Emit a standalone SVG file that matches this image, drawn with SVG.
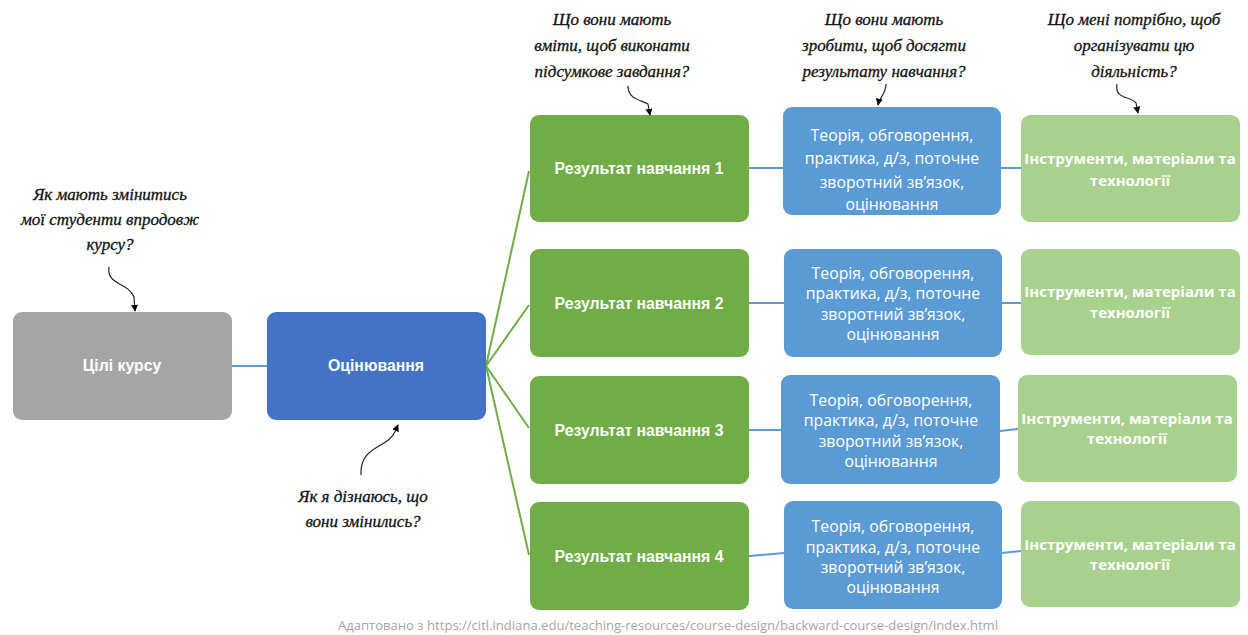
<svg xmlns="http://www.w3.org/2000/svg" width="1248" height="635" viewBox="0 0 1248 635">
  <defs>
    <marker id="tip" viewBox="0 0 10 10" refX="9" refY="5" markerWidth="7" markerHeight="7" markerUnits="userSpaceOnUse" orient="auto">
      <path d="M0,0 L10,5 L0,10 z" fill="#000"/>
    </marker>
    <style>
      .goal { fill: #a5a5a5; }
      .assess { fill: #4472c4; }
      .result { fill: #70ad47; }
      .activity { fill: #5b9bd5; }
      .tools { fill: #a9d18e; }
      .bold { font-family: "Liberation Sans", Arial, sans-serif; font-weight: bold; font-size: 15.8px; fill: #fff; text-anchor: middle; }
      .plain { font-family: "Open Sans", "Noto Sans", sans-serif; font-size: 15.8px; fill: #fff; text-anchor: middle; }
      .tool-txt { font-family: "Open Sans", "Noto Sans", sans-serif; font-weight: bold; font-size: 15px; fill: #fff; text-anchor: middle; }
      .note { font-family: "Liberation Serif", "DejaVu Serif", serif; font-style: italic; font-size: 17px; fill: #111; stroke: #111; stroke-width: 0.3; text-anchor: middle; }
      .curl { fill: none; stroke: #222; stroke-width: 1.2; marker-end: url(#tip); }
      .link-blue { stroke: #5b9bd5; stroke-width: 2; fill: none; }
      .link-green { stroke: #70ad47; stroke-width: 2; fill: none; }
      .credit { font-family: "Open Sans", "Noto Sans", sans-serif; font-size: 13px; fill: #a6a6a6; }
    </style>
  </defs>

  <rect width="1248" height="635" fill="#fff"/>

  <!-- connectors -->
  <g id="connectors">
    <line class="link-blue" x1="232" y1="366" x2="267" y2="366"/>
    <line class="link-green" x1="486" y1="366" x2="529" y2="171"/>
    <line class="link-green" x1="486" y1="366" x2="529" y2="305"/>
    <line class="link-green" x1="486" y1="366" x2="529" y2="428"/>
    <line class="link-green" x1="486" y1="366" x2="529" y2="555"/>
    <line class="link-blue" x1="749" y1="168" x2="783" y2="168"/>
    <line class="link-blue" x1="1001" y1="168" x2="1021" y2="168"/>
    <line class="link-blue" x1="749" y1="303" x2="784" y2="303"/>
    <line class="link-blue" x1="1002" y1="303" x2="1021" y2="303"/>
    <line class="link-blue" x1="749" y1="430" x2="781" y2="430"/>
    <line class="link-blue" x1="1000" y1="431" x2="1018" y2="429"/>
    <line class="link-blue" x1="749" y1="556" x2="784" y2="553"/>
    <line class="link-blue" x1="1002" y1="553" x2="1021" y2="551"/>
  </g>

  <!-- course goals -->
  <g id="goal">
    <rect class="goal" x="13" y="312" width="219" height="108" rx="9"/>
    <text class="bold" x="122" y="371">Цілі курсу</text>
  </g>

  <!-- assessment -->
  <g id="assessment">
    <rect class="assess" x="267" y="312" width="219" height="108" rx="9"/>
    <text class="bold" x="376" y="371">Оцінювання</text>
  </g>

  <!-- learning outcomes -->
  <g id="result-1">
    <rect class="result" x="530" y="115" width="219" height="107" rx="9"/>
    <text class="bold" x="639" y="174">Результат навчання 1</text>
  </g>
  <g id="result-2">
    <rect class="result" x="530" y="249" width="219" height="108" rx="9"/>
    <text class="bold" x="639" y="309">Результат навчання 2</text>
  </g>
  <g id="result-3">
    <rect class="result" x="530" y="376" width="219" height="108" rx="9"/>
    <text class="bold" x="639" y="436">Результат навчання 3</text>
  </g>
  <g id="result-4">
    <rect class="result" x="530" y="502" width="219" height="108" rx="9"/>
    <text class="bold" x="639" y="562">Результат навчання 4</text>
  </g>

  <!-- learning activities -->
  <g id="activity-1">
    <rect class="activity" x="783" y="107" width="218" height="108" rx="9"/>
    <text class="plain" x="892" y="141">Теорія, обговорення,</text>
    <text class="plain" x="892" y="164">практика, д/з, поточне</text>
    <text class="plain" x="892" y="188">зворотний зв’язок,</text>
    <text class="plain" x="892" y="210">оцінювання</text>
  </g>
  <g id="activity-2">
    <rect class="activity" x="784" y="249" width="218" height="108" rx="9"/>
    <text class="plain" x="893" y="279">Теорія, обговорення,</text>
    <text class="plain" x="893" y="299">практика, д/з, поточне</text>
    <text class="plain" x="893" y="320">зворотний зв’язок,</text>
    <text class="plain" x="893" y="340">оцінювання</text>
  </g>
  <g id="activity-3">
    <rect class="activity" x="781" y="375" width="219" height="109" rx="9"/>
    <text class="plain" x="891" y="406">Теорія, обговорення,</text>
    <text class="plain" x="891" y="426">практика, д/з, поточне</text>
    <text class="plain" x="891" y="447">зворотний зв’язок,</text>
    <text class="plain" x="891" y="467">оцінювання</text>
  </g>
  <g id="activity-4">
    <rect class="activity" x="784" y="501" width="218" height="108" rx="9"/>
    <text class="plain" x="893" y="532">Теорія, обговорення,</text>
    <text class="plain" x="893" y="553">практика, д/з, поточне</text>
    <text class="plain" x="893" y="573">зворотний зв’язок,</text>
    <text class="plain" x="893" y="593">оцінювання</text>
  </g>

  <!-- tools and materials -->
  <g id="tools-1">
    <rect class="tools" x="1021" y="115" width="219" height="107" rx="9"/>
    <text class="tool-txt" x="1130" y="164">Інструменти, матеріали та</text>
    <text class="tool-txt" x="1130" y="186">технології</text>
  </g>
  <g id="tools-2">
    <rect class="tools" x="1021" y="249" width="219" height="106" rx="9"/>
    <text class="tool-txt" x="1130" y="297">Інструменти, матеріали та</text>
    <text class="tool-txt" x="1130" y="318">технології</text>
  </g>
  <g id="tools-3">
    <rect class="tools" x="1018" y="375" width="219" height="107" rx="9"/>
    <text class="tool-txt" x="1127" y="424">Інструменти, матеріали та</text>
    <text class="tool-txt" x="1127" y="444">технології</text>
  </g>
  <g id="tools-4">
    <rect class="tools" x="1021" y="501" width="219" height="106" rx="9"/>
    <text class="tool-txt" x="1130" y="550">Інструменти, матеріали та</text>
    <text class="tool-txt" x="1130" y="570">технології</text>
  </g>

  <!-- handwritten questions with curly arrows -->
  <g id="note-goal">
    <text class="note" x="110" y="200">Як мають змінитись</text>
    <text class="note" x="110" y="225">мої студенти впродовж</text>
    <text class="note" x="110" y="250">курсу?</text>
    <path class="curl" d="M109,267 C106,285 128,282 134,297 L135,311"/>
  </g>
  <g id="note-assess">
    <text class="note" x="363" y="502">Як я дізнаюсь, що</text>
    <text class="note" x="363" y="527">вони змінились?</text>
    <path class="curl" d="M361,475 C360,455 372,450 384,443 C393,438 395,432 398,425"/>
  </g>
  <g id="note-result">
    <text class="note" x="612" y="25">Що вони мають</text>
    <text class="note" x="612" y="51">вміти, щоб виконати</text>
    <text class="note" x="612" y="77">підсумкове завдання?</text>
    <path class="curl" d="M628,86 C628,100 642,100 648,104 L650,115"/>
  </g>
  <g id="note-activity">
    <text class="note" x="884" y="25">Що вони мають</text>
    <text class="note" x="884" y="51">зробити, щоб досягти</text>
    <text class="note" x="884" y="77">результату навчання?</text>
    <path class="curl" d="M886,84 C886,94 880,96 878,105"/>
  </g>
  <g id="note-tools">
    <text class="note" x="1134" y="25">Що мені потрібно, щоб</text>
    <text class="note" x="1134" y="51">організувати цю</text>
    <text class="note" x="1134" y="77">діяльність?</text>
    <path class="curl" d="M1117,84 C1114,100 1132,96 1136,103 L1138,113"/>
  </g>

  <!-- source credit -->
  <text class="credit" x="338" y="630" textLength="660" lengthAdjust="spacingAndGlyphs">Адаптовано з https://citl.indiana.edu/teaching-resources/course-design/backward-course-design/index.html</text>
</svg>
